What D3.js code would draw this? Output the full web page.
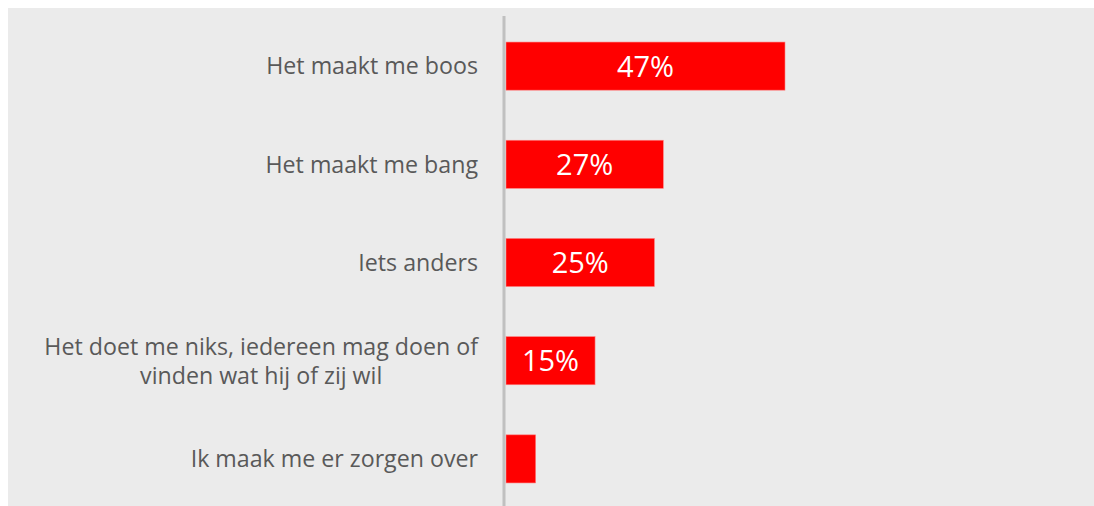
<!DOCTYPE html>
<html><head><meta charset="utf-8">
<script src="https://cdn.jsdelivr.net/npm/d3@7"></script>
<style>html,body{margin:0;padding:0;background:#fff;}</style>
</head><body>
<svg id="chart" width="1094" height="506"></svg>
<script>
const categories = [
  ["Het maakt me boos"],
  ["Het maakt me bang"],
  ["Iets anders"],
  ["Het doet me niks, iedereen mag doen of", "vinden wat hij of zij wil"],
  ["Ik maak me er zorgen over"]
];
const values = [47, 26.5, 25, 15, 5];
const valueLabels = ["47%", "27%", "25%", "15%", ""];

const svg = d3.select("#chart");
svg.append("rect").attr("x", 8).attr("y", 8).attr("width", 1086).attr("height", 498).attr("fill", "#ebebeb");

const x0 = 506;
const x = d3.scaleLinear().domain([0, 47]).range([x0, 785]);
const y = d3.scaleBand().domain(d3.range(values.length)).range([17, 508]).paddingInner(0.51).paddingOuter(0.255);

svg.selectAll("rect.bar").data(values).enter().append("rect")
  .attr("class", "bar")
  .attr("x", x(0))
  .attr("y", (d, i) => y(i))
  .attr("width", d => x(d) - x(0))
  .attr("height", y.bandwidth())
  .attr("fill", "#ff0000")
  .attr("stroke", "#ff8080").attr("stroke-width", 0.6);

svg.append("line").attr("x1", 504).attr("x2", 504).attr("y1", 16).attr("y2", 506)
  .attr("stroke", "#c0c0c0").attr("stroke-width", 3);

const font = "'Open Sans', 'Noto Sans', sans-serif";
const labelRight = 478;

svg.selectAll("text.cat").data(categories).enter().append("text")
  .attr("class", "cat")
  .attr("font-family", font)
  .attr("font-size", 23.2)
  .attr("fill", "#595959")
  .each(function(lines, i) {
    const t = d3.select(this);
    const cy = y(i) + y.bandwidth() / 2;
    const lh = 29;
    const start = cy - (lines.length - 1) * lh / 2;
    if (lines.length === 1) {
      t.attr("text-anchor", "end");
      t.append("tspan").attr("x", labelRight).attr("y", cy).attr("dy", "0.36em").text(lines[0]);
    } else {
      const spans = lines.map((ln, j) => t.append("tspan").attr("y", start + j * lh).attr("dy", "0.36em").text(ln));
      const maxW = d3.max(spans, s => s.node().getComputedTextLength());
      const cx = labelRight - maxW / 2;
      t.attr("text-anchor", "middle");
      spans.forEach(s => s.attr("x", cx));
    }
  });

svg.selectAll("text.val").data(values).enter().append("text")
  .attr("class", "val")
  .attr("x", d => (x(0) + x(d)) / 2)
  .attr("y", (d, i) => y(i) + y.bandwidth() / 2)
  .attr("dy", "0.36em")
  .attr("text-anchor", "middle")
  .attr("font-family", font)
  .attr("font-size", 29)
  .attr("fill", "#ffffff")
  .text((d, i) => valueLabels[i]);
</script>
</body></html>
